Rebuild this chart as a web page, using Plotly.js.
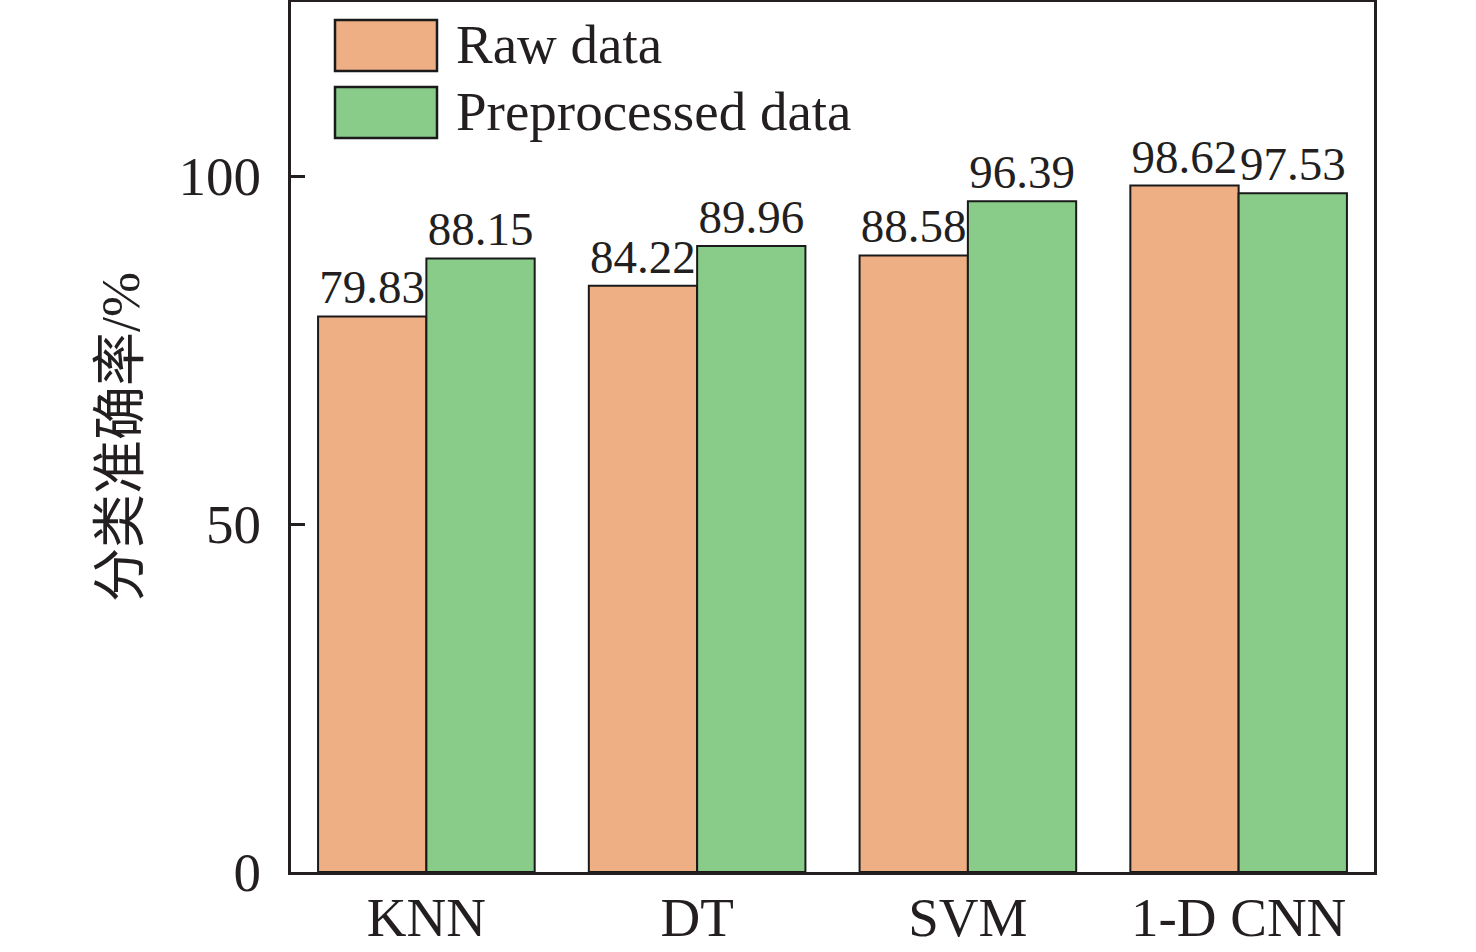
<!DOCTYPE html>
<html>
<head>
<meta charset="utf-8">
<script src="https://cdn.plot.ly/plotly-3.0.1.min.js"></script>
<style>
html,body{margin:0;padding:0;background:#fff;}
#chart{width:1476px;height:952px;}
</style>
</head>
<body>
<div id="chart"></div>
<script>
const categories = ["KNN", "DT", "SVM", "1-D CNN"];
const rawData = [79.83, 84.22, 88.58, 98.62];
const preprocessedData = [88.15, 89.96, 96.39, 97.53];
const seriesNames = ["Raw data", "Preprocessed data"];
const yTickValues = [0, 50, 100];
const yTitle = "分类准确率/%";

const colors = ["#EEAF85", "#89CC8A"];
const serif = "Liberation Serif, Times New Roman, serif";
const axisColor = "#231f20";

function barTrace(values, name, color) {
  return {
    type: "bar",
    x: categories,
    y: values,
    name: name,
    text: values.map(v => v.toFixed(2)),
    textposition: "outside",
    cliponaxis: false,
    textfont: {family: serif, size: 47, color: "#231f20"},
    marker: {color: color, line: {color: "#1a1a1a", width: 2}},
    showlegend: false,
    hoverinfo: "x+y"
  };
}

const traces = [
  barTrace(rawData, seriesNames[0], colors[0]),
  barTrace(preprocessedData, seriesNames[1], colors[1])
];

// legend drawn in paper coordinates (large swatches as in the original)
const L = 291, R = 1374, T = 2, B = 872;
const px = x => (x - L) / (R - L);
const py = y => 1 - (y - T) / (B - T);
const legendRows = [
  {y0: 20, y1: 71, name: seriesNames[0], color: colors[0]},
  {y0: 87, y1: 138, name: seriesNames[1], color: colors[1]}
];
const shapes = legendRows.map(r => ({
  type: "rect", xref: "paper", yref: "paper",
  x0: px(335), x1: px(437), y0: py(r.y1), y1: py(r.y0),
  fillcolor: r.color, line: {color: "#1a1a1a", width: 2.5}
}));
const annotations = legendRows.map(r => ({
  xref: "paper", yref: "paper",
  x: px(454), y: py((r.y0 + r.y1) / 2 - 1),
  xanchor: "left", yanchor: "middle",
  text: r.name, showarrow: false,
  font: {family: serif, size: 55, color: "#231f20"}
}));

const layout = {
  width: 1476, height: 952,
  margin: {l: L, r: 1476 - R, t: T, b: 952 - B, pad: 0},
  paper_bgcolor: "#ffffff",
  plot_bgcolor: "#ffffff",
  barmode: "group",
  bargap: 0.2,
  bargroupgap: 0,
  showlegend: false,
  xaxis: {
    type: "category",
    range: [-0.5, 3.5],
    showline: true, mirror: true, linewidth: 3, linecolor: axisColor,
    ticks: "", showgrid: false, zeroline: false,
    tickfont: {family: serif, size: 55, color: "#231f20"},
    ticklabelstandoff: -5,
    automargin: false
  },
  yaxis: {
    range: [0, 125],
    tickvals: yTickValues,
    ticktext: yTickValues.map(String),
    showline: true, mirror: true, linewidth: 3, linecolor: axisColor,
    ticks: "inside", ticklen: 14, tickwidth: 3, tickcolor: axisColor,
    showgrid: false, zeroline: false,
    tickfont: {family: serif, size: 55, color: "#231f20"},
    ticklabelstandoff: 16,
    title: {
      text: yTitle,
      font: {family: "Liberation Serif, Noto Sans CJK SC, serif", size: 54, color: "#231f20"},
      standoff: 22
    },
    automargin: false
  },
  shapes: shapes,
  annotations: annotations
};

Plotly.newPlot("chart", traces, layout, {displayModeBar: false, staticPlot: true});
</script>
</body>
</html>
